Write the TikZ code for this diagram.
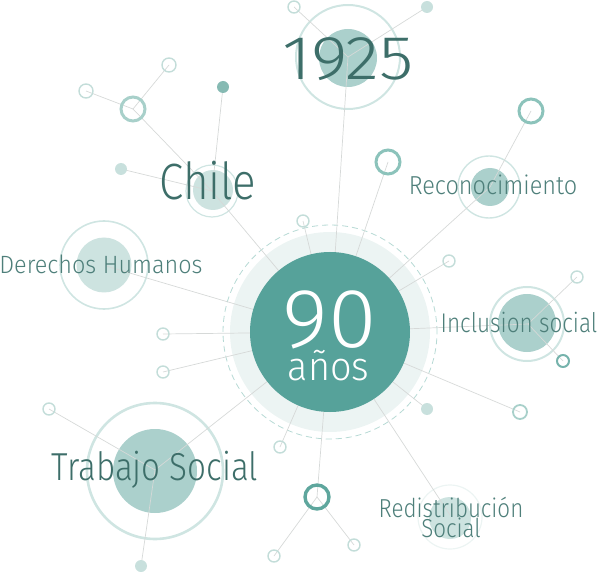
\documentclass[tikz,border=0pt]{standalone}
\usepackage{graphicx}
\usepackage{fontspec}
\setmainfont{Fira Sans Light}[FakeStretch=0.86]
\definecolor{maingreen}{HTML}{56A29A}
\definecolor{halo}{HTML}{ECF4F3}
\definecolor{dashcol}{HTML}{B6D9D4}
\definecolor{linkgray}{HTML}{D6D9D8}
\definecolor{fillmid}{HTML}{ABD0CC}
\definecolor{filllight}{HTML}{CDE3E0}
\definecolor{ringcol}{HTML}{CFE5E2}
\definecolor{openring}{HTML}{C3DDD9}
\definecolor{ringA}{HTML}{A8D0CA}
\definecolor{ringB}{HTML}{8CC3BB}
\definecolor{ringC}{HTML}{5EA69D}
\definecolor{dotmid}{HTML}{86BAB3}
\definecolor{dotlight}{HTML}{C8E0DD}
\definecolor{textdark}{HTML}{3D6E69}
\definecolor{textmid}{HTML}{4E7F7A}
\newcommand\hsc[2]{\scalebox{#1}[1]{#2}}
\tikzset{
  link/.style={draw=linkgray, line width=0.7pt},
  disc/.style={circle, inner sep=0pt, minimum size=#1},
  halo ring/.style={circle, draw=ringcol, line width=1.6pt, inner sep=0pt, minimum size=#1},
  opensmall/.style={circle, draw=openring, line width=1.4pt, inner sep=0pt, minimum size=12pt},
  thickring/.style={circle, line width=3pt, inner sep=0pt, minimum size=24pt},
  dotfill/.style={circle, inner sep=0pt, minimum size=12pt},
  label/.style={anchor=base, inner sep=0pt, text=textmid},
}
\begin{document}
\begin{tikzpicture}[x=1pt,y=-1pt]
\useasboundingbox (0,0) rectangle (600,572);
% positions
\coordinate (core) at (330,332);
\coordinate (h1925) at (348,57);
\coordinate (a1925) at (294,7);
\coordinate (b1925) at (427,7);
\coordinate (hchile) at (212,191);
\coordinate (achile) at (223,87);
\coordinate (bchile) at (121,169);
\coordinate (rchile) at (133,109);
\coordinate (rchileA) at (86,91);
\coordinate (rchileB) at (169,65);
\coordinate (hder) at (106,266);
\coordinate (lsmA) at (163,334);
\coordinate (lsmB) at (163,372);
\coordinate (htrab) at (155,470);
\coordinate (trA) at (49,409);
\coordinate (trB) at (141,566);
\coordinate (osmC) at (280,447);
\coordinate (rbot) at (317,497);
\coordinate (botA) at (274,556);
\coordinate (botB) at (354,545);
\coordinate (hredis) at (450,515);
\coordinate (dotR) at (427,409);
\coordinate (osmR) at (520,412);
\coordinate (hincl) at (528,324);
\coordinate (inA) at (577,277);
\coordinate (inB) at (563,361);
\coordinate (osmI) at (449,261);
\coordinate (hrec) at (490,187);
\coordinate (recR) at (531,111);
\coordinate (ringM) at (388,162);
\coordinate (osmT) at (303,221);

% central halo
\node[disc=200pt, fill=halo] (haloC) at (core) {};
\node[circle, inner sep=0pt, minimum size=214pt, draw=dashcol, line width=0.8pt, dash pattern=on 6pt off 4pt] (dashC) at (core) {};

% cluster discs
\node[halo ring=104pt, line width=2pt] (r1925) at (h1925) {};
\node[disc=58pt, fill=fillmid] (f1925) at (348,58) {};
\node[halo ring=52pt, line width=1.2pt] (rchl) at (hchile) {};
\node[disc=40pt, fill=filllight] (fchl) at (213,190) {};
\node[halo ring=88pt] (rder) at (104,265) {};
\node[disc=55pt, fill=filllight] (fder) at (104,265) {};
\node[halo ring=62pt, line width=1.4pt] (rrec) at (489,187) {};
\node[disc=38pt, fill=fillmid] (frec) at (490,187) {};
\node[halo ring=74pt, line width=2pt] (rinc) at (527,324) {};
\node[disc=58pt, fill=fillmid] (finc) at (527,323) {};
\node[halo ring=136pt, line width=2.6pt] (rtrab) at (155,471) {};
\node[disc=84pt, fill=fillmid] (ftrab) at (155,471) {};
\node[circle, inner sep=0pt, minimum size=64pt, draw=halo, line width=1.2pt] (rred) at (450,517) {};
\node[disc=42pt, fill=filllight] (fred) at (450,518) {};

% connectors
\draw[link] (a1925) -- (h1925) -- (b1925);
\draw[link] (h1925) -- (core);
\draw[link] (rchileA) -- (rchile) -- (rchileB);
\draw[link] (rchile) -- (hchile) -- (core);
\draw[link] (achile) -- (hchile) -- (bchile);
\draw[link] (hder) -- (core);
\draw[link] (lsmA) -- (core);
\draw[link] (lsmB) -- (core);
\draw[link] (trA) -- (htrab) -- (trB);
\draw[link] (htrab) -- (core);
\draw[link] (osmC) -- (core);
\draw[link] (rbot) -- (core);
\draw[link] (botA) -- (rbot) -- (botB);
\draw[link] (hredis) -- (core);
\draw[link] (dotR) -- (core);
\draw[link] (osmR) -- (core);
\draw[link] (inA) -- (hincl) -- (inB);
\draw[link] (hincl) -- (core);
\draw[link] (osmI) -- (core);
\draw[link] (recR) -- (hrec) -- (core);
\draw[link] (ringM) -- (core);
\draw[link] (osmT) -- (core);

% core
\node[disc=160pt, fill=maingreen] (coreC) at (core) {};

% small circles
\node[opensmall] (na1925) at (a1925) {};
\node[dotfill, fill=dotlight] (nb1925) at (b1925) {};
\node[dotfill, fill=dotmid] (nachile) at (achile) {};
\node[dotfill, fill=dotlight] (nbchile) at (bchile) {};
\node[thickring, draw=ringA] (nrchile) at (rchile) {};
\node[opensmall, minimum size=14pt] (nrchileA) at (rchileA) {};
\node[opensmall, minimum size=14pt] (nrchileB) at (rchileB) {};
\node[opensmall] (nlsmA) at (lsmA) {};
\node[opensmall] (nlsmB) at (lsmB) {};
\node[opensmall] (ntrA) at (trA) {};
\node[dotfill, fill=dotlight] (ntrB) at (trB) {};
\node[opensmall] (nosmC) at (osmC) {};
\node[thickring, draw=ringC, line width=3.4pt] (nrbot) at (rbot) {};
\node[opensmall] (nbotA) at (botA) {};
\node[opensmall] (nbotB) at (botB) {};
\node[dotfill, fill=dotlight] (ndotR) at (dotR) {};
\node[opensmall, minimum size=14pt, draw=ringA, line width=1.8pt] (nosmR) at (osmR) {};
\node[opensmall] (ninA) at (inA) {};
\node[opensmall, draw=ringC!85, line width=2pt] (ninB) at (inB) {};
\node[opensmall] (nosmI) at (osmI) {};
\node[thickring, draw=ringB] (nrecR) at (recR) {};
\node[thickring, draw=ringB] (nringM) at (ringM) {};
\node[opensmall] (nosmT) at (osmT) {};

% texts
\node[anchor=base, inner sep=0pt, text=white] (t90) at (330,347)
  {\makebox[0pt]{\fontsize{84}{84}\selectfont\hsc{1.22}{90}}\makebox[0pt]{\raisebox{-33pt}{\kern-3pt\fontsize{40}{40}\selectfont\hsc{1.1}{años}}}};
\node[label, text=textdark, font=\fontsize{62}{62}\selectfont] (t1925) at (348,80) {\hsc{1.32}{1925}};
\node[label, text=textdark, font=\fontsize{51}{51}\selectfont] (tchile) at (208,200) {Chile};
\node[label, font=\fontsize{25}{25}\selectfont] (tder) at (101,273) {\hsc{1.09}{Derechos Humanos}};
\node[label, font=\fontsize{26}{26}\selectfont] (trec) at (493,195) {\hsc{1.05}{Reconocimiento}};
\node[label, font=\fontsize{27}{27}\selectfont] (tinc) at (519,332) {\hsc{0.97}{Inclusion social}};
\node[label, text=textdark, font=\fontsize{39}{39}\selectfont] (ttrab) at (155,480) {\hsc{0.99}{Trabajo Social}};
\node[anchor=base, inner sep=0pt, text=textmid, font=\fontsize{26}{26}\selectfont] (tred) at (451,517)
  {\makebox[0pt]{Redistribución}\makebox[0pt]{\raisebox{-20pt}{Social}}};
\end{tikzpicture}
\end{document}
